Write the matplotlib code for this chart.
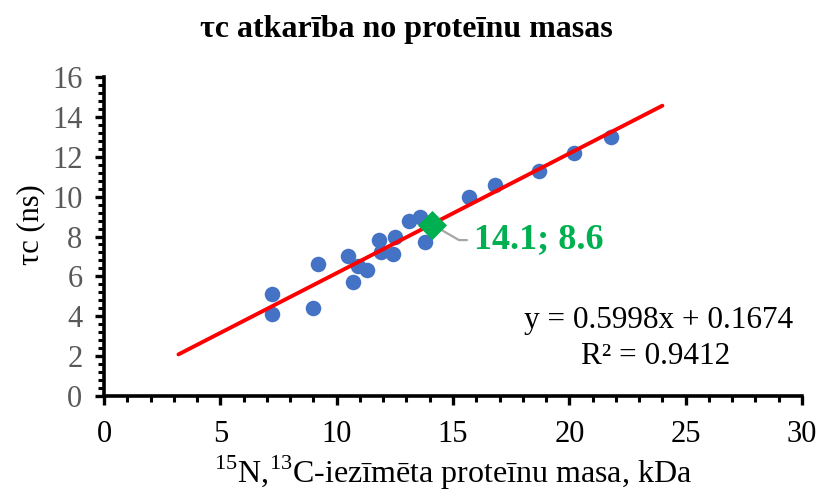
import matplotlib
matplotlib.use("Agg")
import matplotlib.pyplot as plt
import numpy as np
from matplotlib.ticker import MultipleLocator

plt.rcParams['font.family'] = ['Liberation Serif', 'DejaVu Serif']
plt.rcParams['mathtext.fontset'] = 'custom'
plt.rcParams['mathtext.rm'] = 'Liberation Serif'

# Protein mass (kDa) and rotational correlation time (ns)
mass_kda = [7.2, 7.2, 9.0, 9.2, 10.5, 10.7, 10.9, 11.3, 11.8, 11.9,
            12.4, 12.5, 13.1, 13.6, 13.8, 15.7, 16.8, 18.7, 20.2, 21.8]
tau_c_ns = [5.1, 4.1, 4.4, 6.6, 7.0, 5.7, 6.5, 6.3, 7.8, 7.2,
            7.1, 8.0, 8.8, 9.0, 7.7, 10.0, 10.6, 11.3, 12.2, 13.0]

# Highlighted protein
highlight_x = 14.1
highlight_y = 8.6

# Linear trend
slope = 0.5998
intercept = 0.1674
r_squared = 0.9412
trend_range = [3.2, 24.0]

fig = plt.figure(figsize=(8.21, 4.92), dpi=100)
ax = fig.add_axes([104 / 821, 1 - 396 / 492, 698 / 821, 319 / 492])

ax.scatter(mass_kda, tau_c_ns, s=125, color='#4472C4', zorder=3, linewidths=0)

tx = np.array(trend_range)
ax.plot(tx, slope * tx + intercept, color='#FF0000', lw=2.8, zorder=4,
        solid_capstyle='round')

ax.scatter([highlight_x], [highlight_y], marker='D', s=220, color='#00B050',
           zorder=5, linewidths=0)

ax.annotate(f"{highlight_x}; {highlight_y}", xy=(highlight_x, highlight_y),
            xytext=(15.9, 7.82), color='#00B050', fontsize=26, fontweight='bold',
            va='center', ha='left', zorder=2,
            arrowprops=dict(arrowstyle='-', color='#A6A6A6', lw=1.6,
                            connectionstyle='angle,angleA=0,angleB=-30,rad=0',
                            shrinkA=3, shrinkB=0))

ax.text(23.85, 3.81, f"y = {slope}x + {intercept}",
        fontsize=22.5, ha='center', va='center')
ax.text(23.7, 2.0, f"R² = {r_squared}",
        fontsize=22.5, ha='center', va='center')

ax.set_xlim(0, 30)
ax.set_ylim(0, 16)
ax.xaxis.set_major_locator(MultipleLocator(5))
ax.xaxis.set_minor_locator(MultipleLocator(1))
ax.yaxis.set_major_locator(MultipleLocator(2))
ax.yaxis.set_minor_locator(MultipleLocator(0.4))

for side in ('top', 'right'):
    ax.spines[side].set_visible(False)
for side in ('left', 'bottom'):
    ax.spines[side].set_linewidth(2.6)

ax.tick_params(axis='both', which='major', direction='out', length=6.5, width=2.4)
ax.tick_params(axis='both', which='minor', direction='out', length=4, width=2.2)
ax.tick_params(axis='x', labelsize=22, labelcolor='#000000', pad=11)
ax.tick_params(axis='y', labelsize=22, labelcolor='#595959', pad=9)

ax.set_xlabel(r"$^{15}$N,$^{13}$C-iezīmēta proteīnu masa, kDa", fontsize=23,
              va='baseline')
ax.xaxis.set_label_coords(0.5, (396 - 483) / 319)
ax.set_ylabel("τc (ns)", fontsize=22, va='center')
ax.yaxis.set_label_coords((31 - 104) / 698, (396 - 225) / 319)

fig.text(406 / 821, 1 - 29 / 492, "τc atkarība no proteīnu masas",
         fontsize=23, fontweight='bold', ha='center', va='center')

fig.savefig("out.png", dpi=100)
